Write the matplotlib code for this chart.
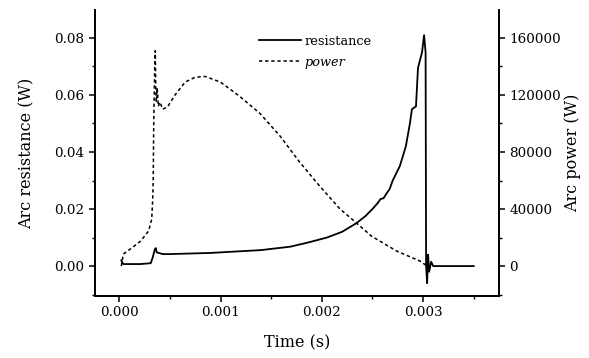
import numpy as np
import matplotlib.pyplot as plt
from matplotlib.ticker import MultipleLocator

plt.rcParams['font.family'] = ['DejaVu Serif']

# arc resistance trace
res_t = [0.00002, 0.00003, 0.00004, 0.00011, 0.00021, 0.00031, 0.00033, 0.00035, 0.00036,
         0.00037, 0.00043, 0.0005, 0.0009, 0.0014, 0.00169, 0.00188, 0.00205, 0.0022, 0.00234,
         0.00243, 0.0025, 0.00255, 0.00258, 0.00261, 0.00264, 0.00267, 0.0027, 0.00277, 0.00283,
         0.00287, 0.00289, 0.00293, 0.00295, 0.00299, 0.00301, 0.003025, 0.00303, 0.00304,
         0.00305, 0.00306, 0.00308, 0.0031, 0.0035]
res_v = [0.002, 0.0012, 0.0007, 0.0007, 0.0007, 0.0010, 0.003, 0.0058, 0.0063,
         0.0048, 0.0042, 0.0042, 0.0046, 0.0056, 0.0068, 0.0084, 0.0100, 0.0120, 0.0150,
         0.0175, 0.020, 0.022, 0.0235, 0.0238, 0.0255, 0.027, 0.030, 0.035, 0.042,
         0.050, 0.055, 0.056, 0.0695, 0.075, 0.081, 0.075, 0.0, -0.006,
         0.004, -0.002, 0.0015, 0.0, 0.0]

# arc power trace
pow_t = [0.00002, 0.00004, 0.00011, 0.00021, 0.00029, 0.00032, 0.00033, 0.000335, 0.00034,
         0.00035, 0.000355, 0.00036, 0.000365, 0.000375, 0.000385, 0.0004, 0.00043, 0.00048,
         0.00055, 0.00065, 0.00075, 0.00085, 0.001, 0.00119, 0.00139, 0.00159,
         0.00178, 0.00198, 0.00218, 0.00232, 0.00249, 0.00274, 0.00297, 0.00301, 0.00304]
pow_v = [0, 8400, 12000, 17500, 24600, 33000, 47000, 61000, 100000,
         140000, 151000, 125000, 115000, 125000, 112000, 115000, 110000, 112000,
         120000, 129000, 132500, 133000, 129000, 119000, 107000, 91000,
         73000, 56000, 40000, 31600, 21000, 10500, 3500, 1500, 0]

x_ticks = [0.000, 0.001, 0.002, 0.003]
left_ticks = [0.00, 0.02, 0.04, 0.06, 0.08]
right_ticks = [0, 40000, 80000, 120000, 160000]

fig = plt.figure(figsize=(5.89, 3.58), dpi=100)
ax = fig.add_axes([0.1613, 0.1732, 0.6859, 0.7988])
ax2 = ax.twinx()

l1, = ax.plot(res_t, res_v, color='black', lw=1.3, label='resistance')
l2, = ax2.plot(pow_t, pow_v, color='black', lw=1.1, linestyle=(0, (2.2, 1.8)), label='power')

ax.set_xlim(-0.00024, 0.00375)
ax.set_ylim(-0.0105, 0.0898)
ax2.set_ylim(-21000, 179600)

ax.set_xticks(x_ticks)
ax.set_xticklabels(['%.3f' % v for v in x_ticks])
ax.set_yticks(left_ticks)
ax.set_yticklabels(['%.2f' % v for v in left_ticks])
ax2.set_yticks(right_ticks)
ax.xaxis.set_minor_locator(MultipleLocator(0.0005))
ax.yaxis.set_minor_locator(MultipleLocator(0.01))
ax2.yaxis.set_minor_locator(MultipleLocator(20000))

for a in (ax, ax2):
    a.spines['top'].set_visible(False)
    for s in a.spines.values():
        s.set_linewidth(1.3)
    a.tick_params(which='major', length=4, width=1.1, labelsize=9.7)
    a.tick_params(which='minor', length=2.5, width=1.0)

ax.set_xlabel('Time (s)', fontsize=11.5, labelpad=11)
ax.set_ylabel('Arc resistance (W)', fontsize=11.5, labelpad=14)
ax2.set_ylabel('Arc power (W)', fontsize=11.5, labelpad=2)

leg = ax.legend(handles=[l1, l2], loc='upper left', bbox_to_anchor=(0.378, 0.954),
                frameon=False, fontsize=9.3, handlelength=3.2, handletextpad=0.3,
                labelspacing=0.6)
leg.get_texts()[1].set_style('italic')

fig.savefig('out.png', dpi=100)
